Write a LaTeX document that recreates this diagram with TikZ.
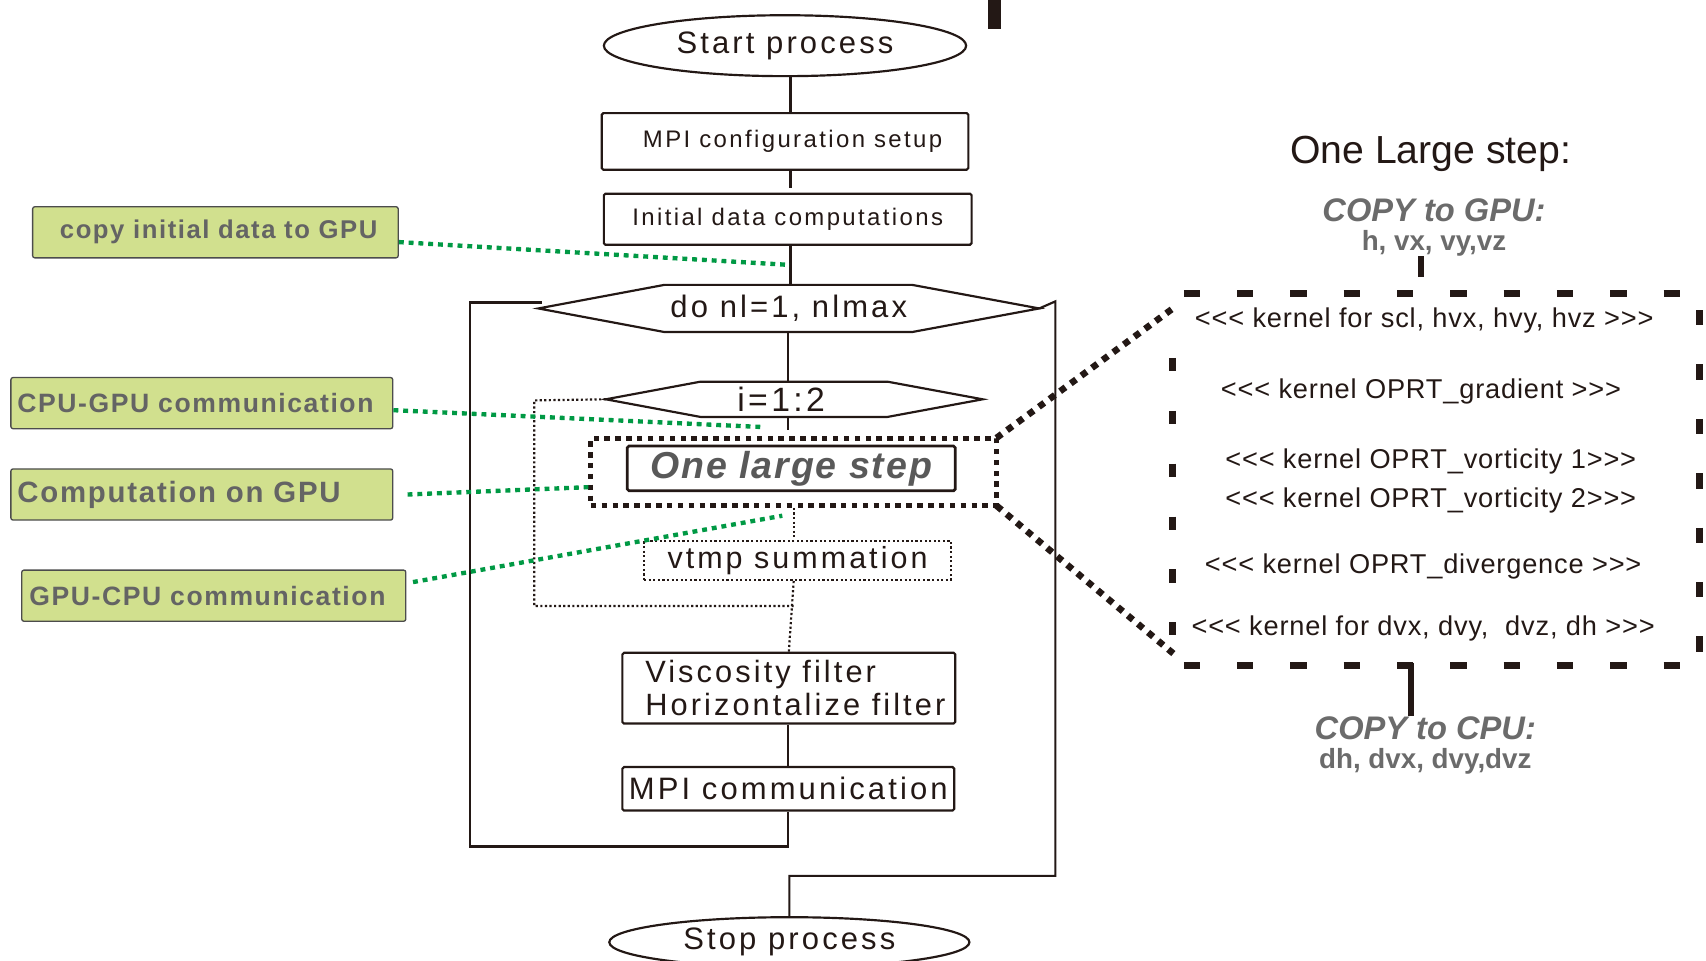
\documentclass[tikz,border=0pt]{standalone}
\usepackage{fontspec}
\setmainfont{Liberation Sans}
\newfontfamily\flowfont[LetterSpace=10,Ligatures=TeXOff]{Liberation Sans}
\newfontfamily\labfont[LetterSpace=6,Ligatures=TeXOff]{Liberation Sans}
\newfontfamily\olsfont[LetterSpace=5,Ligatures=TeXOff]{Liberation Sans}
\newfontfamily\kernfont[LetterSpace=3,Ligatures=TeXOff]{Liberation Sans}
\newfontfamily\plainfont[Ligatures=TeXOff]{Liberation Sans}
\usetikzlibrary{shapes.geometric}
\definecolor{ink}{HTML}{231815}
\definecolor{labfill}{HTML}{D1E08E}
\definecolor{labtext}{HTML}{646464}
\definecolor{gline}{HTML}{009944}
\definecolor{graytxt}{HTML}{6B6B6B}
\begin{document}
\begin{tikzpicture}[x=1pt,y=-1pt,
  flowline/.style={draw=ink, line width=2pt},
  procbox/.style={draw=ink, line width=2pt, rectangle, rounded corners=1.5pt, inner sep=0pt, text=ink},
  term/.style={draw=ink, line width=2pt, ellipse, inner sep=0pt, text=ink, font={\flowfont\fontsize{28.5}{32}\selectfont}},
  hexlabel/.style={inner sep=0pt, text=ink, font={\flowfont\fontsize{28.5}{32}\selectfont}},
  labbox/.style={draw=black!70, line width=1.2pt, fill=labfill, rounded corners=2pt, inner sep=0pt, text=labtext},
  gdot/.style={draw=gline, line width=4pt, dash pattern=on 4.5pt off 4.5pt},
  thindot/.style={draw=ink, line width=2pt, dash pattern=on 2pt off 2.2pt},
  bigdot/.style={draw=ink, line width=6pt, line cap=rect, dash pattern=on 0.1pt off 12pt},
  dashside/.style={draw=ink, line width=6.5pt},
  kerntext/.style={inner sep=0pt, text=ink, font={\kernfont\fontsize{25}{30}\selectfont}},
  copytext/.style={inner sep=0pt, text=graytxt, font={\plainfont\bfseries\itshape\fontsize{30}{34}\selectfont}},
  vartext/.style={inner sep=0pt, text=graytxt, font={\plainfont\bfseries\fontsize{25.5}{30}\selectfont}}
]
\useasboundingbox (0,0) rectangle (1568,883);

% black bar at the top
\fill[ink] (908,0) rectangle (920,27);

% main flow
\node[term, minimum width=333pt, minimum height=56pt] (start) at (721.5,42) {Start process};
\node[procbox, minimum width=337pt, minimum height=52pt, font={\flowfont\fontsize{22}{26}\selectfont}] (mpi) at (721.5,130) {\hspace*{14pt}MPI configuration setup};
\node[procbox, minimum width=338pt, minimum height=47pt, font={\flowfont\fontsize{22}{26}\selectfont}] (init) at (724,201.5) {Initial data computations};

\node[hexlabel, minimum width=460pt, minimum height=43pt] (donl) at (725,283.5) {do nl=1, nlmax};
\draw[flowline, line join=miter] (donl.west) -- ([xshift=116pt]donl.north west) -- ([xshift=-117pt]donl.north east) -- (donl.east) -- ([xshift=-117pt]donl.south east) -- ([xshift=116pt]donl.south west) -- cycle;

\node[hexlabel, minimum width=346pt, minimum height=32pt, font={\flowfont\fontsize{31}{34}\selectfont}] (ii) at (730,367) {i=1:2\hspace*{24pt}};
\draw[flowline, line join=miter] (ii.west) -- ([xshift=87pt]ii.north west) -- ([xshift=-87.5pt]ii.north east) -- (ii.east) -- ([xshift=-87.5pt]ii.south east) -- ([xshift=87pt]ii.south west) -- cycle;

\node[draw=ink, line width=4.5pt, dash pattern=on 5pt off 5pt, minimum width=373pt, minimum height=61.5pt, inner sep=0pt] (olsout) at (729.5,433.75) {};
\node[procbox, line width=2.5pt, minimum width=301.5pt, minimum height=41pt, text=black!65, font={\olsfont\bfseries\itshape\fontsize{34.5}{38}\selectfont}] (ols) at (727.25,430.5) {One large step};

\node[procbox, thindot, rounded corners=0pt, minimum width=282pt, minimum height=36pt, font={\flowfont\fontsize{28}{32}\selectfont}] (vtmp) at (733,515) {vtmp summation};

\node[procbox, minimum width=306pt, minimum height=65pt, align=left, font={\flowfont\fontsize{28.3}{30}\selectfont}] (visc) at (725,632.5) {\hspace*{12pt}Viscosity filter\\\hspace*{12pt}Horizontalize filter};
\node[procbox, minimum width=305pt, minimum height=40pt, font={\flowfont\fontsize{28.5}{32}\selectfont}] (mpic) at (724.5,725) {MPI communication};
\node[term, minimum width=331pt, minimum height=46pt] (stop) at (725.5,866) {Stop process};

% solid connectors
\coordinate (ax) at (726.5,0);
\draw[flowline] (start.south -| ax) -- (mpi.north -| ax);
\draw[flowline] (mpi.south -| ax) -- ++(0,16);
\draw[flowline] (init.south -| ax) -- (donl.north -| ax);
\coordinate (ax2) at (724.5,0);
\draw[flowline] (donl.south -| ax2) -- (ii.north -| ax2);
\draw[flowline] (ii.south -| ax2) -- ++(0,12);
\draw[flowline] (visc.south -| mpic.north) -- (mpic.north);
\draw[flowline] ([xshift=3pt,yshift=5.5pt]donl.west) -| (432,778) -| (mpic.south);
\draw[flowline] (donl.east) -- (970,277) -- (970,805) -| (stop.north);

% dotted inner loop
\draw[thindot] (ii.west) -- (491,368) -- (491,557) -- (729.5,557);
\draw[thindot] (olsout.south) -- (olsout.south |- vtmp.north);
\draw[thindot] (vtmp.south -| olsout.south) -- (visc.north);

% left labels
\node[labbox, minimum width=336pt, minimum height=47pt, font={\labfont\bfseries\fontsize{23.6}{26}\selectfont}] (copy) at (198,213.5) {\hspace*{6pt}copy initial data to GPU};
\node[labbox, minimum width=351pt, minimum height=47pt, text width=339pt, inner xsep=6pt, align=left, font={\labfont\bfseries\fontsize{24.4}{27}\selectfont}] (cg) at (185.5,370.5) {CPU-GPU communication};
\node[labbox, minimum width=351pt, minimum height=47pt, text width=339pt, inner xsep=6pt, align=left, font={\labfont\bfseries\fontsize{27}{30}\selectfont}] (comp) at (185.5,454.5) {Computation on GPU};
\node[labbox, minimum width=351pt, minimum height=47pt, text width=339pt, inner xsep=7pt, align=left, font={\labfont\bfseries\fontsize{24.4}{27}\selectfont}] (gc) at (196.5,547.5) {GPU-CPU communication};

% green connectors
\coordinate (g1) at (726,243.5);
\coordinate (g2) at (701,392.5);
\coordinate (g4) at (719,474);
\draw[gdot] ([yshift=-9pt]copy.east) -- (g1);
\draw[gdot] ([yshift=-6.5pt]cg.east) -- (g2);
\draw[gdot] ([xshift=13pt]comp.east) -- ([yshift=-14pt]olsout.west);
\draw[gdot] ([xshift=6pt,yshift=12.5pt]gc.east) -- (g4);

% right panel
\node[inner sep=0pt, text=ink, font={\plainfont\fontsize{36}{40}\selectfont}] (title) at (1315,141) {One Large step:};
\node[copytext] (copygpu) at (1318,193) {COPY to GPU:};
\node[vartext] (gpuvars) at (1318,223.5) {h, vx, vy,vz};

\node[kerntext] (k1) at (1309,295) {<<< kernel for scl, hvx, hvy, hvz >>>};
\node[kerntext] (k2) at (1306,360) {<<< kernel OPRT\_gradient >>>};
\node[kerntext] (k3) at (1315,424) {<<< kernel OPRT\_vorticity 1>>>};
\node[kerntext] (k4) at (1315,460) {<<< kernel OPRT\_vorticity 2>>>};
\node[kerntext] (k5) at (1308,521) {<<< kernel OPRT\_divergence >>>};
\node[kerntext] (k6) at (1308,578) {<<< kernel for dvx, dvy,\ \ dvz, dh >>>};

\node[copytext] (copycpu) at (1310,669) {COPY to CPU:};
\node[vartext] (cpuvars) at (1310,700) {dh, dvx, dvy,dvz};

\draw[dashside, dash pattern=on 15pt off 34pt] (1088,270) -- (1545,270);
\draw[dashside, dash pattern=on 15pt off 34pt] (1088,612) -- (1545,612);
\draw[dashside, dash pattern=on 12pt off 36.6pt] (1078,329) -- (1078,585);
\draw[dashside, dash pattern=on 14pt off 36pt] (1562,285) -- (1562,600);

\coordinate (rtl) at (1080,282);
\coordinate (rbl) at (1080,602);
\draw[bigdot] (olsout.north east) -- (rtl);
\draw[bigdot] (olsout.south east) -- (rbl);

\coordinate (topbar) at (1306,255);
\draw[draw=ink, line width=5pt] (topbar |- gpuvars.south) -- (topbar);
\coordinate (botbar) at (1297,609);
\draw[draw=ink, line width=5pt] (botbar) -- (botbar |- copycpu.north);
\end{tikzpicture}
\end{document}
